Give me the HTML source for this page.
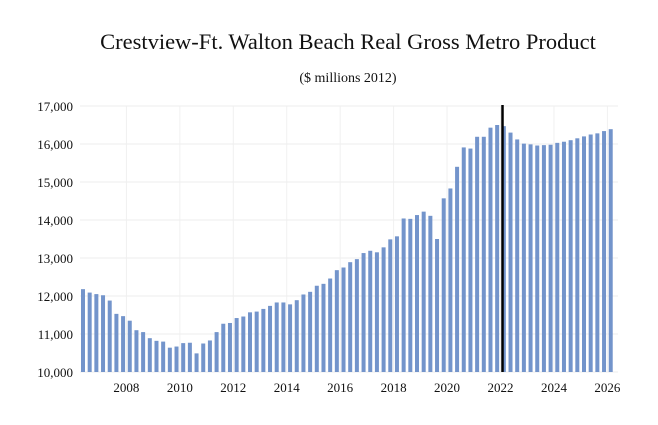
<!DOCTYPE html>
<html><head><meta charset="utf-8"><style>
body{margin:0;background:#fff;}
svg text{font-family:"Liberation Serif",serif;fill:#111;}
</style></head><body>
<svg width="658" height="420">
<text x="348" y="49" text-anchor="middle" font-size="22.5">Crestview-Ft. Walton Beach Real Gross Metro Product</text>
<text x="348" y="82" text-anchor="middle" font-size="14">($ millions 2012)</text>
<g id="grid"></g><g id="bars"></g><g id="axes"></g>
</svg>
<script>
const values=[12180,12090,12050,12020,11880,11530,11470,11350,11100,11050,10890,10820,10800,10640,10670,10760,10770,10490,10750,10830,11050,11270,11290,11420,11460,11570,11590,11660,11740,11830,11830,11780,
11890,12040,12110,12270,12320,12460,12680,12750,12890,12970,13130,13190,13150,13280,13490,13570,14040,14030,14130,14220,14110,13500,14570,14830,
15400,15910,15880,16190,16190,16430,16500,16470,16300,16120,16010,15990,15960,15970,15980,16030,16060,16100,16150,16200,16250,16280,16340,16390];
const yTicks=[10000,11000,12000,13000,14000,15000,16000,17000];
const xYears=[2008,2010,2012,2014,2016,2018,2020,2022,2024,2026];
const startYear=2006.5, forecastStart=2022.2;
const NS="http://www.w3.org/2000/svg";
const y=v=>372-(v-10000)*0.038;
const x=t=>83+(t-startYear)*4*6.68;
function mk(tag,attrs,parent){const e=document.createElementNS(NS,tag);for(const k in attrs)e.setAttribute(k,attrs[k]);document.getElementById(parent).appendChild(e);return e;}
yTicks.forEach(v=>{
  const l=mk('line',{x1:80,x2:618,y1:y(v),y2:y(v),stroke:'#ececec','stroke-width':1},'grid');
  
  
  const t=mk('text',{x:73,y:y(v)+5,'text-anchor':'end','font-size':13},'axes');
  t.textContent=v.toLocaleString('en-US');
  
  
});
xYears.forEach(yr=>{
  const l=mk('line',{x1:x(yr+0.125),x2:x(yr+0.125),y1:106,y2:372,stroke:'#f0f0f0','stroke-width':1},'grid');
  
  
  const t=mk('text',{x:x(yr+0.125),y:392,'text-anchor':'middle','font-size':13},'axes');
  t.textContent=yr;
  
  
});
values.forEach((v,i)=>{
  const cx=x(startYear+i/4);
  const r=mk('rect',{x:cx-2,y:y(v),width:4,height:372-y(v),fill:'#7394cb'},'bars');
  
  
});
const fl=mk('line',{x1:x(forecastStart),x2:x(forecastStart),y1:105,y2:372,stroke:'#000','stroke-width':2.5},'axes');


</script>
</body></html>
